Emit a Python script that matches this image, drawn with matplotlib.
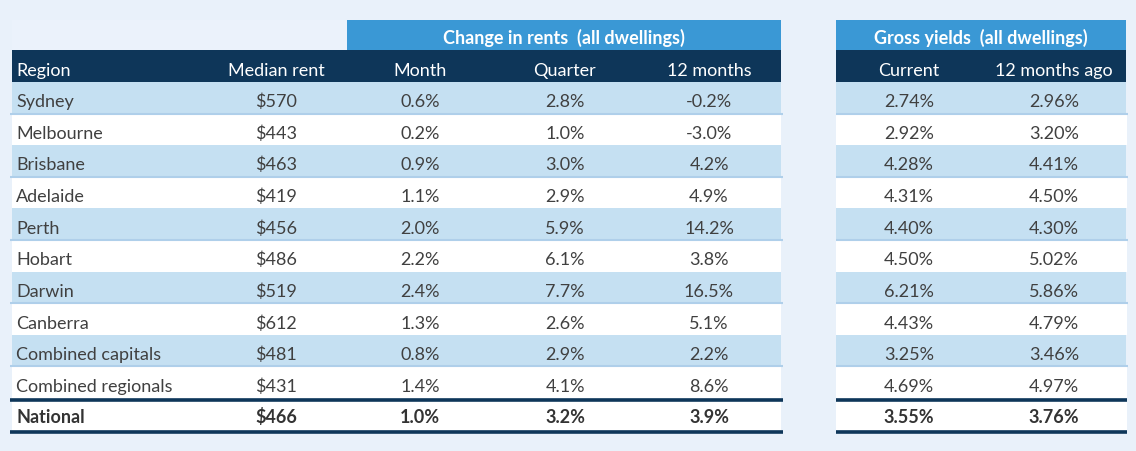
import matplotlib.pyplot as plt
from matplotlib.patches import Rectangle

# table data
regions = ['Sydney', 'Melbourne', 'Brisbane', 'Adelaide', 'Perth', 'Hobart',
           'Darwin', 'Canberra', 'Combined capitals', 'Combined regionals']
median_rent = [570, 443, 463, 419, 456, 486, 519, 612, 481, 431]
change_month = [0.6, 0.2, 0.9, 1.1, 2.0, 2.2, 2.4, 1.3, 0.8, 1.4]
change_quarter = [2.8, 1.0, 3.0, 2.9, 5.9, 6.1, 7.7, 2.6, 2.9, 4.1]
change_12m = [-0.2, -3.0, 4.2, 4.9, 14.2, 3.8, 16.5, 5.1, 2.2, 8.6]
yield_current = [2.74, 2.92, 4.28, 4.31, 4.40, 4.50, 6.21, 4.43, 3.25, 4.69]
yield_12m_ago = [2.96, 3.20, 4.41, 4.50, 4.30, 5.02, 5.86, 4.79, 3.46, 4.97]

national = ['National', 466, 1.0, 3.2, 3.9, 3.55, 3.76]

left_headers = ['Median rent', 'Month', 'Quarter', '12 months']
right_headers = ['Current', '12 months ago']
band_left = 'Change in rents  (all dwellings)'
band_right = 'Gross yields  (all dwellings)'

BG = '#E9F1FA'
BAND = '#3A98D5'
NAVY = '#0E3659'
LIGHT = '#C5E0F2'
SEP = '#AFCFEA'
TXT = '#404040'

plt.rcParams['font.family'] = ['Lato', 'DejaVu Sans']

fig = plt.figure(figsize=(11.36, 4.51), dpi=100, facecolor=BG)
ax = fig.add_axes([0, 0, 1, 1])
ax.set_xlim(0, 1136)
ax.set_ylim(451, 0)
ax.axis('off')

# geometry in pixels
L0, L1 = 12, 781
R0, R1 = 836, 1126
band_top, head_top, rows_top = 20, 50, 82
row_h = 31.6
nat_top = rows_top + row_h * len(regions) + 3
nat_bot = nat_top + 29

col_x = {'region': 16, 'rent': 276, 'month': 420, 'quarter': 565, 'm12': 709,
         'cur': 909, 'ago': 1054}
fs = 13

# band rows
ax.add_patch(Rectangle((L0, band_top), 347 - L0, head_top - band_top, color='#EBF2FB', lw=0))
ax.add_patch(Rectangle((347, band_top), L1 - 347, head_top - band_top, color=BAND, lw=0))
ax.add_patch(Rectangle((R0, band_top), R1 - R0, head_top - band_top, color=BAND, lw=0))
ax.text((347 + L1) / 2, band_top + 23.5, band_left, ha='center', va='baseline',
        color='white', fontsize=fs, fontweight='bold')
ax.text((R0 + R1) / 2, band_top + 23.5, band_right, ha='center', va='baseline',
        color='white', fontsize=fs, fontweight='bold')

# dark header row
ax.add_patch(Rectangle((L0, head_top), L1 - L0, rows_top - head_top, color=NAVY, lw=0))
ax.add_patch(Rectangle((R0, head_top), R1 - R0, rows_top - head_top, color=NAVY, lw=0))
hy = head_top + 26
ax.text(col_x['region'], hy, 'Region', ha='left', va='baseline', color='white', fontsize=fs)
for key, lab in zip(['rent', 'month', 'quarter', 'm12'], left_headers):
    ax.text(col_x[key], hy, lab, ha='center', va='baseline', color='white', fontsize=fs)
for key, lab in zip(['cur', 'ago'], right_headers):
    ax.text(col_x[key], hy, lab, ha='center', va='baseline', color='white', fontsize=fs)

# body rows
for i, reg in enumerate(regions):
    top = rows_top + row_h * i
    shade = LIGHT if i % 2 == 0 else 'white'
    ax.add_patch(Rectangle((L0, top), L1 - L0, row_h, color=shade, lw=0))
    ax.add_patch(Rectangle((R0, top), R1 - R0 + (0 if i % 2 == 0 else 1), row_h, color=shade, lw=0))
    if i % 2 == 0 and i < len(regions) - 1:
        ax.plot([L0 - 2, L1 + 2], [top + row_h, top + row_h], color=SEP, lw=1.5,
                solid_capstyle='butt')
        ax.plot([R0, R1 + 2], [top + row_h, top + row_h], color=SEP, lw=1.5,
                solid_capstyle='butt')
    by = top + 25.3
    ax.text(col_x['region'], by, reg, ha='left', va='baseline', color=TXT, fontsize=fs)
    vals = [f'${median_rent[i]}', f'{change_month[i]:.1f}%', f'{change_quarter[i]:.1f}%',
            f'{change_12m[i]:.1f}%', f'{yield_current[i]:.2f}%', f'{yield_12m_ago[i]:.2f}%']
    for key, v in zip(['rent', 'month', 'quarter', 'm12', 'cur', 'ago'], vals):
        ax.text(col_x[key], by, v, ha='center', va='baseline', color=TXT, fontsize=fs)

# national row
ax.add_patch(Rectangle((L0, nat_top), L1 - L0, nat_bot - nat_top, color='white', lw=0))
ax.add_patch(Rectangle((R0, nat_top), R1 - R0 + 1, nat_bot - nat_top, color='white', lw=0))
for yline in [nat_top - 1.5, nat_bot + 1.5]:
    ax.plot([L0 - 2, L1 + 2], [yline, yline], color=NAVY, lw=2.6, solid_capstyle='butt')
    ax.plot([R0, R1 + 1], [yline, yline], color=NAVY, lw=2.6, solid_capstyle='butt')
ny = nat_top + 22
ax.text(col_x['region'], ny, national[0], ha='left', va='baseline', color='#333333',
        fontsize=fs, fontweight='bold')
nat_vals = [f'${national[1]}', f'{national[2]:.1f}%', f'{national[3]:.1f}%',
            f'{national[4]:.1f}%', f'{national[5]:.2f}%', f'{national[6]:.2f}%']
for key, v in zip(['rent', 'month', 'quarter', 'm12', 'cur', 'ago'], nat_vals):
    ax.text(col_x[key], ny, v, ha='center', va='baseline', color='#333333',
            fontsize=fs, fontweight='bold')

fig.savefig('out.png', dpi=100, facecolor=BG)
